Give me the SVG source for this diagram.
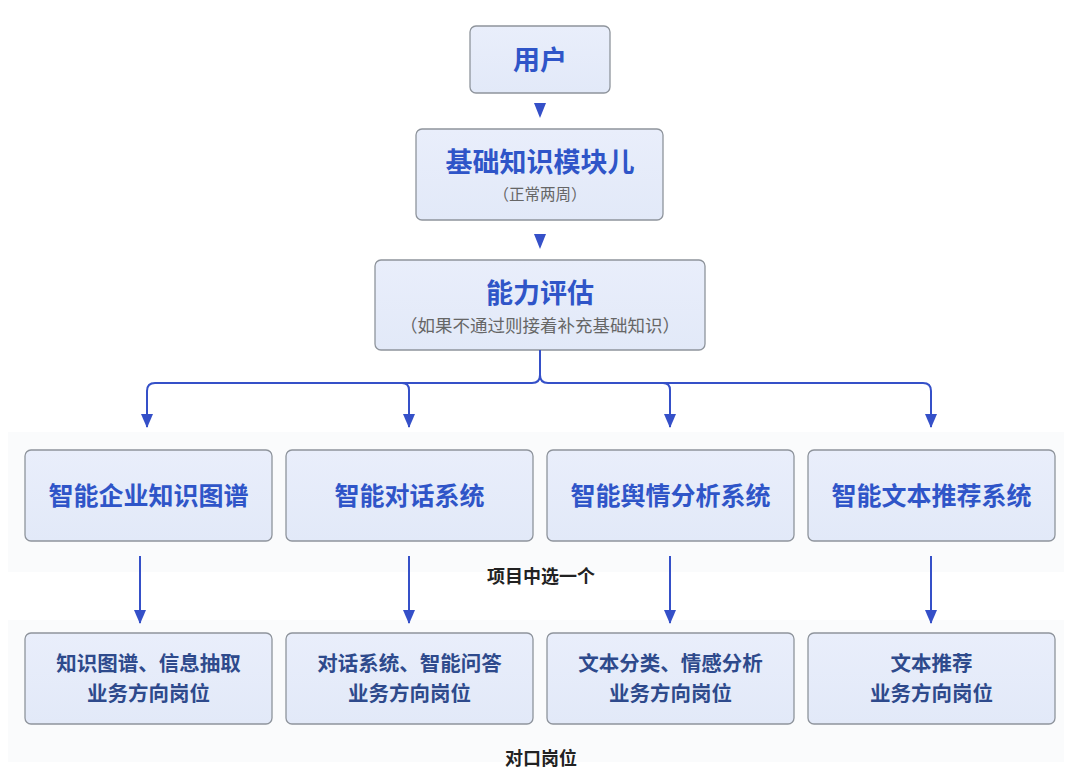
<svg xmlns="http://www.w3.org/2000/svg" width="1080" height="775" viewBox="0 0 1080 775">
<defs>
<linearGradient id="g" x1="0" y1="0" x2="0" y2="1">
<stop offset="0" stop-color="#e9eefb"/>
<stop offset="1" stop-color="#e2e9f8"/>
</linearGradient>
<marker id="ah" viewBox="0 0 14 12" refX="13" refY="6" markerWidth="14" markerHeight="12" markerUnits="userSpaceOnUse" orient="auto">
<path d="M0,0 L14,6 L0,12 Z" fill="#3550c8"/>
</marker>
</defs>
<style>
.box{fill:url(#g);stroke:#8e949c;stroke-width:1.3}
.t{font-family:"Noto Sans CJK SC","Noto Sans",sans-serif;font-weight:700;fill:#2f55c8;text-anchor:middle}
.s{font-family:"Noto Sans CJK SC","Noto Sans",sans-serif;fill:#666;text-anchor:middle}
.j{font-family:"Noto Sans CJK SC","Noto Sans",sans-serif;font-weight:700;fill:#2e4a8c;text-anchor:middle;font-size:20.5px}
.lab{font-family:"Noto Sans CJK SC","Noto Sans",sans-serif;font-weight:700;fill:#222;text-anchor:middle;font-size:18px}
.c{fill:none;stroke:#3550c8;stroke-width:2}
.bg{fill:#fafbfc}
</style>
<rect class="bg" x="8" y="432" width="1056" height="140"/>
<rect class="bg" x="8" y="620" width="1056" height="142"/>
<g id="user"><rect class="box" x="470" y="26" width="140" height="67" rx="6"/><text class="t" x="540" y="70" font-size="27">用户</text></g>
<g id="basic"><rect class="box" x="416" y="129" width="247" height="91" rx="6"/><text class="t" x="540" y="172" font-size="27">基础知识模块儿</text><text class="s" x="540" y="200" font-size="15.5">（正常两周）</text></g>
<g id="eval"><rect class="box" x="375" y="260" width="330" height="90" rx="6"/><text class="t" x="540" y="303" font-size="27">能力评估</text><text class="s" x="540" y="332" font-size="17.5">（如果不通过则接着补充基础知识）</text></g>
<g id="p1"><rect class="box" x="25" y="450" width="247" height="91" rx="6"/><text class="t" x="148.5" y="505" font-size="25">智能企业知识图谱</text></g>
<g id="p2"><rect class="box" x="286" y="450" width="247" height="91" rx="6"/><text class="t" x="409.5" y="505" font-size="25">智能对话系统</text></g>
<g id="p3"><rect class="box" x="547" y="450" width="247" height="91" rx="6"/><text class="t" x="670.5" y="505" font-size="25">智能舆情分析系统</text></g>
<g id="p4"><rect class="box" x="808" y="450" width="247" height="91" rx="6"/><text class="t" x="931.5" y="505" font-size="25">智能文本推荐系统</text></g>
<g id="j1"><rect class="box" x="25" y="633" width="247" height="91" rx="6"/><text class="j" x="148.5" y="671">知识图谱、信息抽取</text><text class="j" x="148.5" y="701">业务方向岗位</text></g>
<g id="j2"><rect class="box" x="286" y="633" width="247" height="91" rx="6"/><text class="j" x="409.5" y="671">对话系统、智能问答</text><text class="j" x="409.5" y="701">业务方向岗位</text></g>
<g id="j3"><rect class="box" x="547" y="633" width="247" height="91" rx="6"/><text class="j" x="670.5" y="671">文本分类、情感分析</text><text class="j" x="670.5" y="701">业务方向岗位</text></g>
<g id="j4"><rect class="box" x="808" y="633" width="247" height="91" rx="6"/><text class="j" x="931.5" y="671">文本推荐</text><text class="j" x="931.5" y="701">业务方向岗位</text></g>
<g id="labels"><text class="lab" x="541" y="583">项目中选一个</text><text class="lab" x="541" y="765">对口岗位</text></g>
<g id="connectors">
<path d="M534,103 L546,103 L540,118 Z" fill="#3550c8"/>
<path d="M534,234 L546,234 L540,249 Z" fill="#3550c8"/>
<path class="c" d="M540,350 V375 Q540,383 532,383 H155 Q147,383 147,391 V427" marker-end="url(#ah)"/>
<path class="c" d="M540,375 Q540,383 548,383 H923 Q931,383 931,391 V427" marker-end="url(#ah)"/>
<path class="c" d="M402,383 Q409,383 409,390 V427" marker-end="url(#ah)"/>
<path class="c" d="M663,383 Q670,383 670,390 V427" marker-end="url(#ah)"/>
<path class="c" d="M140,556 V623" marker-end="url(#ah)"/>
<path class="c" d="M409,556 V623" marker-end="url(#ah)"/>
<path class="c" d="M670,556 V623" marker-end="url(#ah)"/>
<path class="c" d="M931,556 V623" marker-end="url(#ah)"/>
</g>
</svg>
